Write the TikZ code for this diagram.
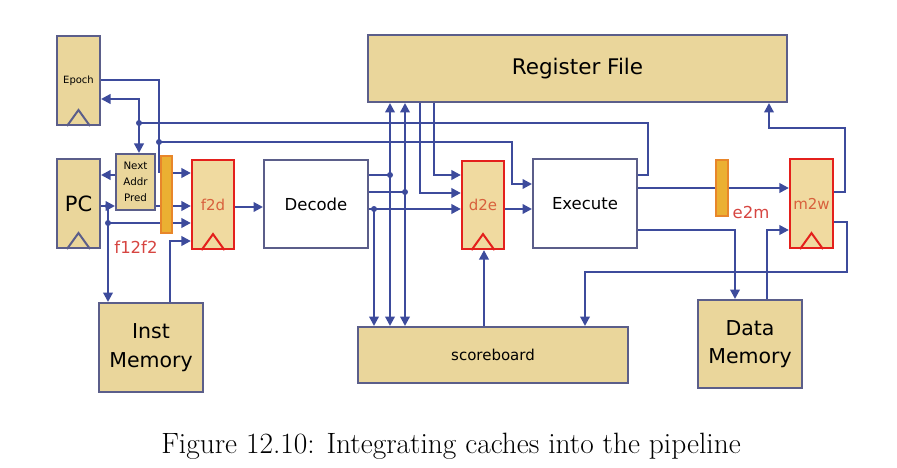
\documentclass[tikz,border=0pt]{standalone}
\usepackage{fontspec}
\newfontfamily\dv{DejaVu Sans}
\usetikzlibrary{arrows.meta}
\definecolor{tan}{HTML}{EAD69B}
\definecolor{regfill}{HTML}{F0DAA0}
\definecolor{bordc}{HTML}{5B5E8A}
\definecolor{wirec}{HTML}{3D4B9C}
\definecolor{regred}{HTML}{E4201C}
\definecolor{barfill}{HTML}{EBB032}
\definecolor{barbord}{HTML}{E8862A}
\definecolor{labred}{HTML}{D64541}
\definecolor{regtext}{HTML}{D8603C}
\newcommand\clocktri[2]{\draw[#2, line width=2pt, line join=miter] ([xshift=-11.5pt]#1.south) -- ([yshift=16pt]#1.south) -- ([xshift=11.5pt]#1.south);}
\newcommand\jdot[1]{\fill[wirec] (#1) circle (3pt);}
\begin{document}
\begin{tikzpicture}[x=1pt,y=-1pt,
  box/.style={draw=bordc, line width=2pt, fill=tan, inner sep=0pt, text=black},
  wbox/.style={draw=bordc, line width=2pt, fill=white, inner sep=0pt, text=black},
  regbox/.style={draw=regred, line width=2.2pt, fill=regfill, inner sep=0pt, font=\dv\fontsize{15}{18}\selectfont, text=regtext},
  barbox/.style={draw=barbord, line width=1.5pt, fill=barfill, inner sep=0pt},
  lab/.style={font=\dv\fontsize{16.5}{20}\selectfont, text=labred, inner sep=0pt},
  wire/.style={draw=wirec, line width=2.2pt},
  arr/.style={wire, -{Triangle[length=9.5pt,width=9.5pt]}}]
\useasboundingbox (0,0) rectangle (897,468);
% boxes
\node[box, minimum width=43pt, minimum height=89pt, font=\dv\fontsize{10}{12}\selectfont] (epoch) at (78.5,80.5) {Epoch};
\node[box, minimum width=43pt, minimum height=89pt, font=\dv\fontsize{21}{24}\selectfont] (pc) at (78.5,203.5) {PC};
\node[box, minimum width=39pt, minimum height=56pt, align=center, font=\dv\fontsize{10.3}{16}\selectfont] (nap) at (135.5,182) {Next\\Addr\\Pred};
\node[barbox, minimum width=11pt, minimum height=77pt] (f12) at (166.5,194.5) {};
\node[regbox, minimum width=42pt, minimum height=89pt] (f2d) at (213,204.5) {f2d};
\node[box, minimum width=104pt, minimum height=89pt, align=center, font=\dv\fontsize{20.5}{29}\selectfont] (imem) at (151,347.5) {Inst\\Memory};
\node[wbox, minimum width=104pt, minimum height=88pt, font=\dv\fontsize{16.5}{20}\selectfont] (decode) at (316,204) {Decode};
\node[box, minimum width=419pt, minimum height=67pt, font=\dv\fontsize{21.5}{24}\selectfont] (rf) at (577.5,68.5) {Register File};
\node[regbox, minimum width=42pt, minimum height=88pt] (d2e) at (483,205) {d2e};
\node[wbox, minimum width=104pt, minimum height=89pt, font=\dv\fontsize{16.5}{20}\selectfont] (exec) at (585,203.5) {Execute};
\node[box, minimum width=270pt, minimum height=56pt, font=\dv\fontsize{15}{18}\selectfont] (sb) at (493,355) {scoreboard};
\node[barbox, minimum width=12pt, minimum height=56pt] (e2m) at (722,188) {};
\node[regbox, minimum width=43pt, minimum height=89pt] (m2w) at (811.5,203.5) {m2w};
\node[box, minimum width=104pt, minimum height=88pt, align=center, font=\dv\fontsize{20.5}{28}\selectfont] (dmem) at (750,344) {Data\\Memory};
% clock triangles
\clocktri{epoch}{bordc}
\clocktri{pc}{bordc}
\clocktri{f2d}{regred}
\clocktri{d2e}{regred}
\clocktri{m2w}{regred}
% labels
\node[lab] (lf12) at (136,247) {f12f2};
\node[lab] (le2m) at (751,212) {e2m};
% fetch stage wires
\draw[wire] (epoch.east |- 0,80) -- (159,80) -- (159,173);
\draw[arr] (f12.east |- 0,173) -- (f2d.west |- 0,173);
\draw[arr] (159,142) -- (512,142) -- (512,184) -- (exec.west |- 0,184);
\jdot{159,142}
\draw[wire] (exec.east |- 0,175) -- (648,175) -- (648,123) -- (139,123);
\draw[arr] (139,123) -- (139,99) -- (epoch.east |- 0,99);
\draw[arr] (139,123) -- (nap.north -| 139,0);
\jdot{139,123}
\draw[arr] (nap.west |- 0,175) -- (pc.east |- 0,175);
\draw[arr] (pc.east |- 0,206) -- (nap.west |- 0,206);
\draw[wire] (nap.east |- 0,206) -- (f12.west |- 0,206);
\draw[arr] (f12.east |- 0,206) -- (f2d.west |- 0,206);
\draw[arr] (108,206) -- (imem.north -| 108,0);
\jdot{108,206}
\draw[wire] (108,223) -- (f12.west |- 0,223);
\draw[arr] (f12.east |- 0,223) -- (f2d.west |- 0,223);
\jdot{108,223}
\draw[arr] (imem.north -| 170,0) -- (170,241) -- (f2d.west |- 0,241);
\draw[arr] (f2d.east |- 0,207) -- (decode.west |- 0,207);
% decode stage wires
\draw[wire] (decode.east |- 0,175) -- (390,175);
\draw[wire] (decode.east |- 0,192) -- (405,192);
\draw[arr] (decode.east |- 0,209) -- (d2e.west |- 0,209);
\draw[arr] (390,175) -- (rf.south -| 390,0);
\draw[arr] (390,175) -- (sb.north -| 390,0);
\draw[arr] (405,192) -- (rf.south -| 405,0);
\draw[arr] (405,192) -- (sb.north -| 405,0);
\draw[arr] (374,209) -- (sb.north -| 374,0);
\jdot{390,175}
\jdot{405,192}
\jdot{374,209}
\draw[arr] (rf.south -| 434,0) -- (434,175) -- (d2e.west |- 0,175);
\draw[arr] (rf.south -| 420,0) -- (420,193) -- (d2e.west |- 0,193);
\draw[arr] (d2e.east |- 0,209) -- (exec.west |- 0,209);
\draw[arr] (sb.north -| 484,0) -- (d2e.south -| 484,0);
% execute / memory wires
\draw[wire] (exec.east |- 0,188) -- (e2m.west |- 0,188);
\draw[arr] (e2m.east |- 0,188) -- (m2w.west |- 0,188);
\draw[arr] (exec.east |- 0,230) -- (735,230) -- (dmem.north -| 735,0);
\draw[arr] (dmem.north -| 767,0) -- (767,230) -- (m2w.west |- 0,230);
\draw[arr] (m2w.east |- 0,192) -- (845,192) -- (845,128) -- (769,128) -- (rf.south -| 769,0);
\draw[arr] (m2w.east |- 0,222) -- (847,222) -- (847,272) -- (585,272) -- (sb.north -| 585,0);
% caption
\node[font=\fontsize{29.4}{34}\selectfont, inner sep=0pt] (cap) at (451,446) {Figure 12.10: Integrating caches into the pipeline};
\end{tikzpicture}
\end{document}
